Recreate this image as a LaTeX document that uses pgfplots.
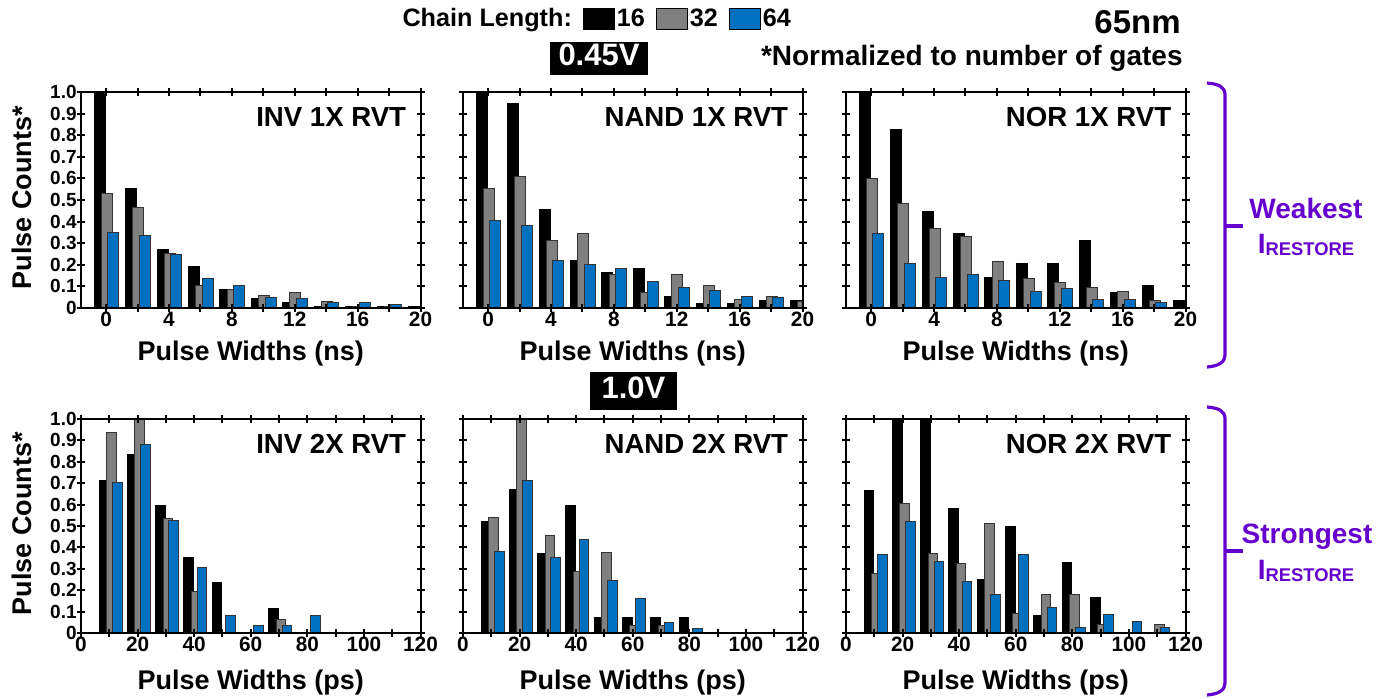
\documentclass[border=0pt]{standalone}
\usepackage{fontspec}
\setmainfont{Liberation Sans}
\usepackage{pgfplots}
\pgfplotsset{compat=1.18}
\definecolor{cgray}{HTML}{808080}
\definecolor{cblue}{HTML}{0070C0}
\definecolor{cpurp}{HTML}{6600CC}
\newcommand{\fs}[1]{\fontsize{#1}{#1}\selectfont\bfseries}
\tikzset{plabel/.style={anchor=north east, font=\fs{13.8}, inner sep=0pt, xshift=-7pt, yshift=-7.5pt}}
\pgfplotsset{
 panel/.style={scale only axis, width=169.75pt, ymin=0, ymax=1, axis on top,
   axis line style={line width=1pt}, tick style={line width=1pt, black},
   major tick length=4pt, minor tick length=4pt, tick align=center,
   ytick={0,0.1,0.2,0.3,0.4,0.5,0.6,0.7,0.8,0.9,1}, yticklabels={},
   /pgf/number format/assume math mode=true,
   xticklabel style={font=\fs{10.4}, inner sep=0pt},
   yticklabel style={font=\fs{9.5}, inner sep=0pt},
   xlabel style={font=\fs{13.5}, inner sep=0pt, anchor=base},
   ylabel style={font=\fs{13.5}, inner sep=0pt, at={(axis description cs:-0.174,0.51)}, anchor=center}},
 toprow/.style={panel, height=108pt, xmin=-1.6, xmax=20, xtick={0,4,...,20}, minor xtick={2,6,...,18},
   xlabel={Pulse Widths (ns)}, xlabel style={at={(axis description cs:0.5,-0.2407)}}},
 botrow/.style={panel, height=107pt, xmin=0, xmax=120, xtick={0,20,...,120}, minor xtick={10,30,...,110},
   xlabel={Pulse Widths (ps)}, xlabel style={at={(axis description cs:0.5,-0.2617)}}},
 leftcol/.style={yticklabels={0,0.1,0.2,0.3,0.4,0.5,0.6,0.7,0.8,0.9,1.0}, ylabel={Pulse Counts*}},
 t16/.style={ybar, bar width=0.7, bar shift=-0.41, fill=black, draw=black, line width=0.5pt},
 t32/.style={ybar, bar width=0.7, bar shift=0.04, fill=cgray, draw=black!80, line width=0.5pt},
 t64/.style={ybar, bar width=0.7, bar shift=0.46, fill=cblue, draw=black!80, line width=0.5pt},
 b16/.style={ybar, bar width=3.4, bar shift=-1.9, fill=black, draw=black, line width=0.5pt},
 b32/.style={ybar, bar width=3.4, bar shift=0.7, fill=cgray, draw=black!80, line width=0.5pt},
 b64/.style={ybar, bar width=3.4, bar shift=2.8, fill=cblue, draw=black!80, line width=0.5pt},
}
\begin{document}
\begin{tikzpicture}
\useasboundingbox (0pt,0pt) rectangle (697.5pt,-349pt);
% ---------------- top left
\begin{axis}[toprow, leftcol, at={(40.5pt,-46pt)}, anchor=north west,
  legend columns=-1,
  legend style={at={(axis description cs:0.94,1.338)}, anchor=west, draw=none, fill=none,
    inner sep=0pt, font=\fs{12.6}, nodes={inner sep=1pt},
    /tikz/every even column/.append style={column sep=4.5pt}}]
\addlegendimage{empty legend}\addlegendentry{Chain Length:\hspace{-6pt}}
\addplot[t16, legend image code/.code={\draw[fill=black,draw=black,line width=0.6pt] (0pt,-5.4pt) rectangle (15.4pt,5.4pt);}]
 coordinates {(0,1.0)(2,0.554)(4,0.272)(6,0.19)(8,0.084)(10,0.042)(12,0.025)(14,0.008)(16,0.009)(18,0.008)(20,0.009)};
\addlegendentry{16}
\addplot[t32, legend image code/.code={\draw[fill=cgray,draw=black,line width=0.6pt] (0pt,-5.4pt) rectangle (15.4pt,5.4pt);}]
 coordinates {(0,0.528)(2,0.467)(4,0.251)(6,0.102)(8,0.085)(10,0.056)(12,0.071)(14,0.029)(16,0.005)(18,0.005)};
\addlegendentry{32}
\addplot[t64, legend image code/.code={\draw[fill=cblue,draw=black,line width=0.6pt] (0pt,-5.4pt) rectangle (15.4pt,5.4pt);}]
 coordinates {(0,0.35)(2,0.337)(4,0.246)(6,0.138)(8,0.104)(10,0.048)(12,0.043)(14,0.025)(16,0.025)(18,0.015)};
\addlegendentry{64}
\node[plabel] at (rel axis cs:1,1) {INV 1X RVT};
\end{axis}
% ---------------- top middle
\begin{axis}[toprow, at={(231.5pt,-46pt)}, anchor=north west]
\addplot[t16] coordinates {(0,1.0)(2,0.946)(4,0.455)(6,0.218)(8,0.164)(10,0.181)(12,0.054)(14,0.02)(16,0.02)(18,0.037)(20,0.037)};
\addplot[t32] coordinates {(0,0.551)(2,0.61)(4,0.314)(6,0.347)(8,0.153)(10,0.07)(12,0.153)(14,0.102)(16,0.04)(18,0.053)(20,0.031)};
\addplot[t64] coordinates {(0,0.404)(2,0.384)(4,0.221)(6,0.201)(8,0.181)(10,0.122)(12,0.094)(14,0.08)(16,0.053)(18,0.048)};
\node[plabel] at (rel axis cs:1,1) {NAND 1X RVT};
\end{axis}
% ---------------- top right
\begin{axis}[toprow, at={(423pt,-46pt)}, anchor=north west]
\addplot[t16] coordinates {(0,1.0)(2,0.828)(4,0.449)(6,0.345)(8,0.139)(10,0.207)(12,0.207)(14,0.311)(16,0.071)(18,0.104)(20,0.036)};
\addplot[t32] coordinates {(0,0.599)(2,0.483)(4,0.367)(6,0.33)(8,0.214)(10,0.135)(12,0.116)(14,0.096)(16,0.077)(18,0.037)};
\addplot[t64] coordinates {(0,0.344)(2,0.206)(4,0.141)(6,0.155)(8,0.128)(10,0.077)(12,0.09)(14,0.039)(16,0.039)(18,0.025)};
\node[plabel] at (rel axis cs:1,1) {NOR 1X RVT};
\end{axis}
% ---------------- bottom left
\begin{axis}[botrow, leftcol, at={(40.5pt,-209.5pt)}, anchor=north west]
\addplot[b16] coordinates {(10,0.713)(20,0.833)(30,0.595)(40,0.355)(50,0.235)(70,0.115)};
\addplot[b32] coordinates {(10,0.935)(20,1.0)(30,0.533)(40,0.196)(70,0.062)};
\addplot[b64] coordinates {(10,0.704)(20,0.883)(30,0.528)(40,0.304)(50,0.084)(60,0.037)(70,0.037)(80,0.084)};
\node[plabel] at (rel axis cs:1,1) {INV 2X RVT};
\end{axis}
% ---------------- bottom middle
\begin{axis}[botrow, at={(231.5pt,-209.5pt)}, anchor=north west]
\addplot[b16] coordinates {(10,0.52)(20,0.67)(30,0.371)(40,0.595)(50,0.072)(60,0.072)(70,0.072)(80,0.072)};
\addplot[b32] coordinates {(10,0.542)(20,1.0)(30,0.458)(40,0.288)(50,0.374)(60,0.036)(70,0.036)};
\addplot[b64] coordinates {(10,0.383)(20,0.715)(30,0.355)(40,0.439)(50,0.245)(60,0.16)(70,0.051)(80,0.022)};
\node[plabel] at (rel axis cs:1,1) {NAND 2X RVT};
\end{axis}
% ---------------- bottom right
\begin{axis}[botrow, at={(423pt,-209.5pt)}, anchor=north west]
\addplot[b16] coordinates {(10,0.667)(20,1.0)(30,1.0)(40,0.583)(50,0.248)(60,0.498)(70,0.081)(80,0.33)(90,0.164)};
\addplot[b32] coordinates {(10,0.277)(20,0.606)(30,0.371)(40,0.324)(50,0.512)(60,0.089)(70,0.182)(80,0.182)(90,0.04)(110,0.04)};
\addplot[b64] coordinates {(10,0.368)(20,0.523)(30,0.336)(40,0.243)(50,0.182)(60,0.368)(70,0.118)(80,0.025)(90,0.087)(100,0.056)(110,0.025)};
\node[plabel] at (rel axis cs:1,1) {NOR 2X RVT};
\end{axis}
% ---------------- annotations (pixel grid)
\begin{scope}[x=0.5pt, y=-0.5pt]
\fill[black] (550,42) rectangle (648,75);
\node[anchor=base, text=white, font=\fs{15.5}, inner sep=0pt] at (599,65) {0.45V};
\fill[black] (590,372) rectangle (677,410);
\node[anchor=base, text=white, font=\fs{15.5}, inner sep=0pt] at (633.5,398) {1.0V};
\node[anchor=base east, font=\fs{16.5}, inner sep=0pt] at (1181,33) {65nm};
\node[anchor=base east, font=\fs{14}, inner sep=0pt] at (1183,65) {*Normalized to number of gates};
\draw[cpurp, line width=1.6pt] (1207,83) .. controls (1219,84) and (1225,87) .. (1225,95) -- (1225,355) .. controls (1225,362) and (1219,366) .. (1207,367);
\draw[cpurp, line width=1.6pt] (1225,226) -- (1243,226);
\draw[cpurp, line width=1.6pt] (1207,407) .. controls (1219,408) and (1225,411) .. (1225,419) -- (1225,683) .. controls (1225,690) and (1219,694) .. (1207,695);
\draw[cpurp, line width=1.6pt] (1225,551) -- (1243,551);
\node[anchor=base, text=cpurp, font=\fs{14}, inner sep=0pt] at (1306,218) {Weakest};
\node[anchor=base, text=cpurp, font=\fs{14}, inner sep=0pt] at (1306,253) {I\raisebox{-1.4pt}{\fs{9.2}RESTORE}};
\node[anchor=base, text=cpurp, font=\fs{14}, inner sep=0pt] at (1307,543) {Strongest};
\node[anchor=base, text=cpurp, font=\fs{14}, inner sep=0pt] at (1306,579) {I\raisebox{-1.4pt}{\fs{9.2}RESTORE}};
\end{scope}
\end{tikzpicture}
\end{document}
